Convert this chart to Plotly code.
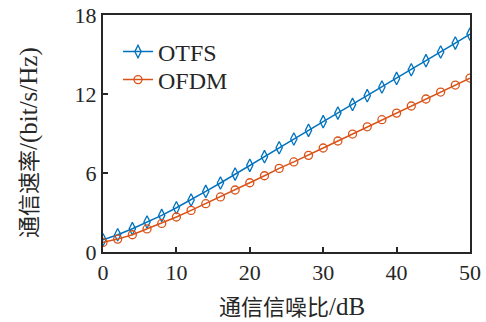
import plotly.graph_objects as go

snr = list(range(0, 51, 2))
otfs = [0.93, 1.31, 1.77, 2.28, 2.78, 3.36, 3.95, 4.60, 5.24, 5.92, 6.58, 7.24, 7.92,
        8.58, 9.24, 9.90, 10.55, 11.21, 11.87, 12.53, 13.18, 13.84, 14.53, 15.19, 15.87, 16.55]
ofdm = [0.73, 0.98, 1.31, 1.75, 2.17, 2.66, 3.16, 3.67, 4.18, 4.71, 5.26, 5.79, 6.35,
        6.84, 7.34, 7.90, 8.43, 8.96, 9.51, 10.05, 10.55, 11.09, 11.62, 12.15, 12.68, 13.21]
x_ticks = [0, 10, 20, 30, 40, 50]
y_ticks = [0, 6, 12, 18]
x_title = '<span style="font-size:22px">通信信噪比</span>/dB'
y_title = '<span style="font-size:22px">通信速率</span>/(bit/s/Hz)'

font_fam = "Liberation Serif, Noto Sans CJK SC, serif"
ink = "#262626"

W, H = 486, 322
L, R, T, B = 103, 16, 15, 70  # plot box in window pixels (body margin removed)
pw, ph = W - L - R, H - T - B

def px_x(px):
    return (px - L) / pw

def px_y(py):
    return (H - B - py) / ph

fig = go.Figure()
fig.add_trace(go.Scatter(x=snr, y=otfs, name="OTFS", mode="lines+markers", legend="legend",
                         line=dict(color="#0072BD", width=1.5),
                         marker=dict(symbol="diamond-tall-open", size=9, color="#0072BD",
                                     line=dict(width=1.3))))
fig.add_trace(go.Scatter(x=snr, y=ofdm, name="OFDM", mode="lines+markers", legend="legend2",
                         line=dict(color="#D95319", width=1.5),
                         marker=dict(symbol="circle-open", size=8, color="#D95319",
                                     line=dict(width=1.3))))

axis_common = dict(showline=True, linecolor=ink, linewidth=2, mirror=True,
                   ticks="inside", ticklen=5, tickwidth=1.5, tickcolor=ink,
                   showgrid=False, zeroline=False, automargin=False,
                   ticklabeloverflow="allow",
                   tickfont=dict(family=font_fam, size=22, color=ink))

fig.update_xaxes(range=[0, 50], tickvals=x_ticks, **axis_common)
fig.update_yaxes(range=[0, 18], tickvals=y_ticks, **axis_common)

fig.add_annotation(text=x_title, xref="paper", yref="paper",
                   x=px_x(292), y=px_y(306),
                   showarrow=False, xanchor="center", yanchor="middle",
                   font=dict(family=font_fam, size=25, color=ink))
fig.add_annotation(text=y_title, xref="paper", yref="paper",
                   x=px_x(29), y=px_y(143),
                   showarrow=False, xanchor="center", yanchor="middle", textangle=-90,
                   font=dict(family=font_fam, size=25, color=ink))

leg_common = dict(xanchor="left", yanchor="middle", bgcolor="rgba(0,0,0,0)",
                  font=dict(family=font_fam, size=24, color=ink))

fig.update_layout(width=W, height=H, margin=dict(l=L, r=R, t=T, b=B),
                  paper_bgcolor="white", plot_bgcolor="white",
                  legend=dict(x=px_x(118), y=px_y(52), **leg_common),
                  legend2=dict(x=px_x(118), y=px_y(80), **leg_common),
                  showlegend=True)

fig.write_html("out.html", config={"displayModeBar": False},
               post_script="document.body.style.margin='0';")
